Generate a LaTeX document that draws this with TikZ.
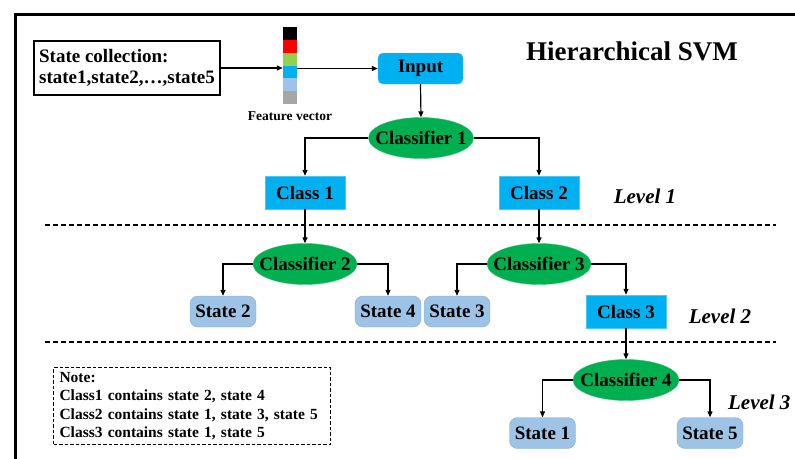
\documentclass[tikz,border=0pt]{standalone}
\usepackage{fontspec}
\setmainfont{Liberation Serif}
\usetikzlibrary{shapes.geometric,arrows.meta}
\definecolor{ccyan}{HTML}{00B0F0}
\definecolor{cgreen}{HTML}{00B050}
\definecolor{clblue}{HTML}{9DC3E6}
\definecolor{clborder}{HTML}{8FAACB}
\definecolor{fgreen}{HTML}{92D050}
\definecolor{fgray}{HTML}{A6A6A6}
\newcommand{\ztext}[1]{\makebox[0pt]{#1}}
\tikzset{
  txt/.style={font=\fontsize{19}{21}\selectfont\bfseries},
  classbox/.style={txt, fill=ccyan, draw=ccyan!70!white, minimum width=80pt, minimum height=33pt, inner sep=0pt},
  clsf/.style={txt, ellipse, fill=cgreen, draw=cgreen!80!white, minimum width=105pt, minimum height=41pt, inner sep=0pt},
  statebox/.style={txt, rounded corners=8pt, fill=clblue, draw=clborder, minimum width=66pt, minimum height=31pt, inner sep=0pt},
  arr/.style={-{Triangle[length=6pt,width=5pt]}, line width=1.2pt},
  lvl/.style={font=\fontsize{21}{24}\selectfont\bfseries\itshape},
  sep/.style={dashed, line width=1.2pt, dash pattern=on 5pt off 3pt}
}
\begin{document}
\begin{tikzpicture}[x=1pt,y=-1pt]
\useasboundingbox (0,0) rectangle (795,458);
% frame
\draw[line width=3pt] (15,470) -- (15,14) -- (810,14);
% title
\node[font=\fontsize{27}{30}\selectfont\bfseries] (title) at (632,51) {Hierarchical SVM};
% state collection
\node[txt, draw, line width=1.2pt, align=left, minimum width=186pt, minimum height=54pt, inner sep=2pt] (sc) at (127,68)
  {State collection:\\state1,state2,\ldots,state5};
% feature vector
\node[minimum width=14pt, minimum height=77pt, inner sep=0pt] (fv) at (290,65.5) {};
\fill[black]  (283,27) rectangle (297,40);
\fill[red]    (283,40) rectangle (297,53);
\fill[fgreen] (283,53) rectangle (297,66);
\fill[ccyan]  (283,66) rectangle (297,78);
\fill[clblue] (283,78) rectangle (297,91);
\fill[fgray]  (283,91) rectangle (297,104);
\node[font=\fontsize{13.5}{15}\selectfont\bfseries] (fvl) at (290,116) {Feature vector};
% input
\node[txt, rounded corners=5pt, fill=ccyan, draw=ccyan!70!white, minimum width=85pt, minimum height=31pt, inner sep=0pt] (inp) at (420.5,68.5) {Input};
\draw[arr] (sc.east) -- (sc.east -| fv.west);
\draw[arr] (inp.west -| fv.east) -- (inp.west);
% level 1
\node[clsf] (c1) at (421,138) {\ztext{Classifier 1}};
\node[classbox] (cl1) at (305,192.5) {Class 1};
\node[classbox] (cl2) at (539,192.5) {Class 2};
\draw[arr] (inp.south) -- (c1.north);
\draw[arr] (c1.west) -| (cl1.north);
\draw[arr] (c1.east) -| (cl2.north);
\node[lvl] (l1) at (645,196) {Level 1};
\coordinate (d1a) at (45,225);
\coordinate (d1b) at (776,225);
\draw[sep] (d1a) -- (d1b);
% level 2
\node[clsf, minimum width=104pt] (c2) at (305,264) {\ztext{Classifier 2}};
\node[clsf, minimum width=104pt] (c3) at (539,264) {\ztext{Classifier 3}};
\draw[arr] (cl1.south) -- (c2.north);
\draw[arr] (cl2.south) -- (c3.north);
\node[statebox] (s2) at (223,311.5) {State 2};
\node[statebox] (s4) at (388,311.5) {State 4};
\node[statebox] (s3) at (457,311.5) {State 3};
\node[classbox] (cl3) at (626,311.5) {Class 3};
\draw[arr] (c2.west) -| (s2.north);
\draw[arr] (c2.east) -| (s4.north);
\draw[arr] (c3.west) -| (s3.north);
\draw[arr] (c3.east) -| (cl3.north);
\node[lvl] (l2) at (720,316) {Level 2};
\coordinate (d2a) at (45,342);
\coordinate (d2b) at (776,342);
\draw[sep] (d2a) -- (d2b);
% level 3
\node[clsf, minimum width=106pt] (c4) at (626,380) {\ztext{Classifier 4}};
\draw[arr] (cl3.south) -- (c4.north);
\node[statebox] (s1) at (542.5,433) {State 1};
\node[statebox] (s5) at (710,433) {State 5};
\draw[arr] (c4.west) -| (s1.north);
\draw[arr] (c4.east) -| (s5.north);
\node[lvl, anchor=east] (l3) at (794,402) {Level 3};
% note
\node[draw, dashed, line width=1.1pt, dash pattern=on 3.5pt off 2pt, align=left, anchor=north west,
  font=\fontsize{15.5}{18.5}\selectfont\bfseries, minimum width=277pt, minimum height=77pt, inner xsep=6pt, inner ysep=2pt, text width=265pt] (note) at (53,367)
  {Note:\\Class1 contains state 2, state 4\\Class2 contains state 1, state 3, state 5\\Class3 contains state 1, state 5};
\end{tikzpicture}
\end{document}
